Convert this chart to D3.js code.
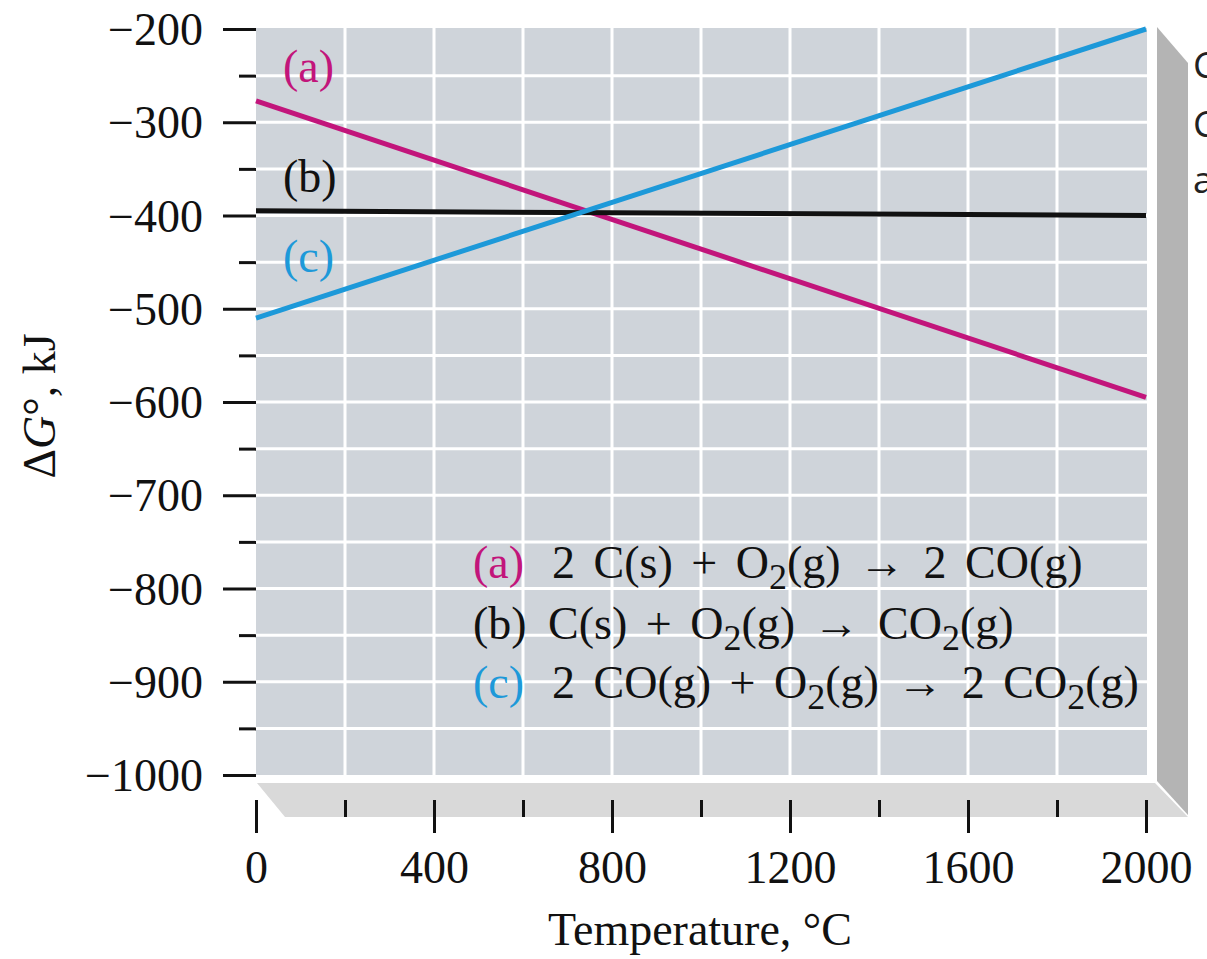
<!DOCTYPE html>
<html lang="en">
    <head>
        <meta charset="utf-8">
        <title>Free energy vs temperature</title>
        <script type="text/javascript" src="https://d3js.org/d3.v7.min.js"></script>
        <style type="text/css">
            body {
                margin: 0;
                background: #ffffff;
            }
            .serif {
                font-family: "Liberation Serif", "Times New Roman", serif;
            }
            .axis text {
                font-family: "Liberation Serif", "Times New Roman", serif;
                font-size: 46px;
                fill: #111;
            }
            .axis line {
                stroke: #111;
                stroke-width: 3px;
            }
            .axis path {
                display: none;
            }
            .grid line {
                stroke: #ffffff;
                stroke-width: 3px;
            }
        </style>
    </head>

    <body>
        <script type="text/javascript">

            // chart size
            const svgW = 1207;
            const svgH = 959;

            // data
            const temps = [0, 2000];
            const seriesA = [-277, -595];   // 2 C(s) + O2(g) -> 2 CO(g)
            const seriesB = [-395, -400];   // C(s) + O2(g) -> CO2(g)
            const seriesC = [-510, -200];   // 2 CO(g) + O2(g) -> 2 CO2(g)
            const seriesNames = ["(a)", "(b)", "(c)"];
            const seriesColors = ["#c2157b", "#111111", "#1d99d9"];

            // ticks
            const yMajor = [-1000, -900, -800, -700, -600, -500, -400, -300, -200];
            const yMinor = [-950, -850, -750, -650, -550, -450, -350, -250];
            const xMajor = [0, 400, 800, 1200, 1600, 2000];
            const xMinor = [200, 600, 1000, 1400, 1800];

            // plot box
            const boxL = 256, boxR = 1147, boxT = 28, boxB = 775;

            const x = d3.scaleLinear()
                        .domain([0, 2000])
                        .range([boxL, 1146]);
            const y = d3.scaleLinear()
                        .domain([-1000, -200])
                        .range([boxB, 29]);

            const svg = d3.select("body")
                .append("svg")
                .attr("width", svgW)
                .attr("height", svgH);

            // 3D floor and wall
            svg.append("polygon")
                .attr("points", [[boxL + 1, 783], [1155, 783], [1188, 817], [285, 817]].join(" "))
                .attr("fill", "#d9d9d9");
            svg.append("polygon")
                .attr("points", [[1157, 27], [1188, 63], [1188, 815], [1157, 781]].join(" "))
                .attr("fill", "#b4b4b4");

            // plot background
            svg.append("rect")
                .attr("x", boxL)
                .attr("y", boxT)
                .attr("width", boxR - boxL)
                .attr("height", boxB - boxT)
                .attr("fill", "#cfd4da");

            // grid lines
            const grid = svg.append("g").attr("class", "grid");
            grid.selectAll(".h")
                .data(yMajor.concat(yMinor).filter(v => v > -1000 && v < -200))
                .enter()
                .append("line")
                .attr("x1", boxL)
                .attr("x2", boxR)
                .attr("y1", d => y(d))
                .attr("y2", d => y(d));
            grid.selectAll(".v")
                .data(xMajor.concat(xMinor).filter(v => v > 0 && v < 2000))
                .enter()
                .append("line")
                .attr("y1", boxT)
                .attr("y2", boxB)
                .attr("x1", d => x(d))
                .attr("x2", d => x(d));

            // lines
            const line = d3.line()
                .x((d, i) => x(temps[i]))
                .y(d => y(d));
            [seriesA, seriesB, seriesC].forEach(function(s, i) {
                svg.append("path")
                    .datum(s)
                    .attr("d", line)
                    .attr("fill", "none")
                    .attr("stroke", seriesColors[i])
                    .attr("stroke-width", 5);
            });

            // series labels near the left edge
            const labelY = [-257, -375, -461];
            svg.selectAll(".slabel")
                .data(seriesNames)
                .enter()
                .append("text")
                .attr("class", "serif")
                .attr("x", 283)
                .attr("y", (d, i) => y(labelY[i]))
                .attr("font-size", 46)
                .attr("fill", (d, i) => seriesColors[i])
                .text(d => d);

            // y axis, major and minor (no thousands comma)
            svg.append("g")
                .attr("class", "axis")
                .attr("transform", "translate(" + boxL + ",0)")
                .call(d3.axisLeft(y).tickValues(yMajor).tickSize(33).tickPadding(20).tickFormat(d3.format("d")))
                .selectAll("text")
                .attr("dy", "0.34em");
            svg.append("g")
                .attr("class", "axis")
                .attr("transform", "translate(" + boxL + ",0)")
                .call(d3.axisLeft(y).tickValues(yMinor).tickSize(17).tickFormat(""));

            // x axis, major and minor
            svg.append("g")
                .attr("class", "axis")
                .attr("transform", "translate(0,800)")
                .call(d3.axisBottom(x).tickValues(xMajor).tickSize(33).tickPadding(17).tickFormat(d3.format("d")));
            svg.append("g")
                .attr("class", "axis")
                .attr("transform", "translate(0,800)")
                .call(d3.axisBottom(x).tickValues(xMinor).tickSize(17).tickFormat(""));

            // axis titles
            svg.append("text")
                .attr("class", "serif")
                .attr("text-anchor", "middle")
                .attr("x", 700)
                .attr("y", 945)
                .attr("font-size", 46)
                .attr("fill", "#111")
                .text("Temperature, °C");

            const yt = svg.append("text")
                .attr("class", "serif")
                .attr("text-anchor", "middle")
                .attr("transform", "translate(55,406) rotate(-90)")
                .attr("font-size", 46)
                .attr("fill", "#111");
            yt.append("tspan").text("Δ");
            yt.append("tspan").attr("font-style", "italic").text("G");
            yt.append("tspan").text("°, kJ");

            // legend: reaction equations
            const legendRows = [
                [["2 C(s) + O", 0], ["2", 1], ["(g) → 2 CO(g)", 0]],
                [["C(s) + O", 0], ["2", 1], ["(g) → CO", 0], ["2", 1], ["(g)", 0]],
                [["2 CO(g) + O", 0], ["2", 1], ["(g) → 2 CO", 0], ["2", 1], ["(g)", 0]]
            ];
            const legendBase = [578, 639, 698];
            const legendStart = [552, 548, 552];
            legendRows.forEach(function(row, i) {
                svg.append("text")
                    .attr("class", "serif")
                    .attr("x", 473)
                    .attr("y", legendBase[i])
                    .attr("font-size", 46)
                    .attr("fill", seriesColors[i])
                    .text(seriesNames[i]);
                const t = svg.append("text")
                    .attr("class", "serif")
                    .attr("x", legendStart[i])
                    .attr("y", legendBase[i])
                    .attr("font-size", 46)
                    .attr("word-spacing", 7)
                    .attr("fill", "#111");
                let shift = 0;
                row.forEach(function(p) {
                    const d = p[1] ? 11 : 0;
                    t.append("tspan")
                        .attr("dy", d - shift)
                        .attr("font-size", p[1] ? 36 : 46)
                        .text(p[0]);
                    shift = d;
                });
            });

            // cut-off text at the right edge
            const sideText = ["C", "C", "a"];
            const sideBase = [78, 137, 193];
            svg.selectAll(".side")
                .data(sideText)
                .enter()
                .append("text")
                .attr("x", 1193)
                .attr("y", (d, i) => sideBase[i])
                .attr("font-family", "'Open Sans', sans-serif")
                .attr("font-size", 37)
                .attr("fill", "#222")
                .text(d => d);

        </script>
    </body>
</html>
